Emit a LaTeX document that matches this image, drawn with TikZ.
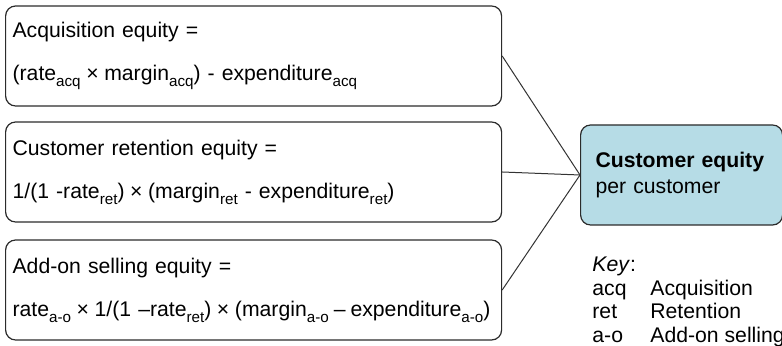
\documentclass[tikz,border=0pt]{standalone}
\usepackage{fontspec}
\setmainfont{Liberation Sans}
\usepackage{xcolor}
\usepackage{tikz}
\usetikzlibrary{positioning}
\definecolor{ceInk}{HTML}{2B2B2B}
\definecolor{ceLine}{HTML}{333333}
\definecolor{ceBlue}{HTML}{B6DCE6}
\newcommand{\lowtext}[1]{\raisebox{-0.55ex}{\fontsize{7.6}{8}\selectfont #1}}
\newcommand{\tms}{\hspace{2.8pt}×\hspace{2.8pt}}
\tikzset{
  eqbox/.style={
    rounded corners=5pt,
    draw=ceInk,
    line width=0.6pt,
    anchor=west,
    align=left,
    text width=241pt,
    minimum height=50pt,
    inner xsep=3.5pt,
    font=\fontsize{10.6}{12.7}\selectfont
  },
  resultbox/.style={
    rounded corners=5pt,
    draw=ceInk,
    fill=ceBlue,
    line width=0.6pt,
    anchor=west,
    align=left,
    text width=86pt,
    minimum height=50pt,
    inner xsep=7.5pt,
    font=\fontsize{10.6}{13}\selectfont
  },
  feedline/.style={draw=ceLine, line width=0.5pt}
}

\begin{document}
\begin{tikzpicture}[x=0.5pt,y=0.5pt]
  \useasboundingbox (0,0) rectangle (782,346);

  \node[eqbox] (acq) at (5,290) {Acquisition equity =\\[8.8pt]
    \mbox{(rate\lowtext{acq}\tms margin\lowtext{acq}) - expenditure\lowtext{acq}}};
  \node[eqbox] (ret) at (5,174) {Customer retention equity =\\[8.8pt]
    \mbox{1/(1 -rate\lowtext{ret})\tms(margin\lowtext{ret} - expenditure\lowtext{ret})}};
  \node[eqbox] (aos) at (5,56) {Add-on selling equity =\\[8.8pt]
    \mbox{rate\lowtext{a-o}\tms1/(1 –rate\lowtext{ret})\tms(margin\lowtext{a-o}\hspace{2.5pt}–\hspace{2.5pt}expenditure\lowtext{a-o})}};

  \node[resultbox] (ce) at (580,171) {\textbf{Customer equity}\\per customer};

  \draw[feedline] (acq.east) -- (ce.west);
  \draw[feedline] (ret.east) -- (ce.west);
  \draw[feedline] (aos.east) -- (ce.west);

  \node[anchor=north west, inner sep=0pt, align=left, font=\fontsize{10.6}{11.7}\selectfont] (key) at (592,89)
    {\textit{Key}:\\
     \makebox[29pt][l]{acq}Acquisition\\
     \makebox[29pt][l]{ret}Retention\\
     \makebox[29pt][l]{a-o}Add-on selling};
\end{tikzpicture}
\end{document}
